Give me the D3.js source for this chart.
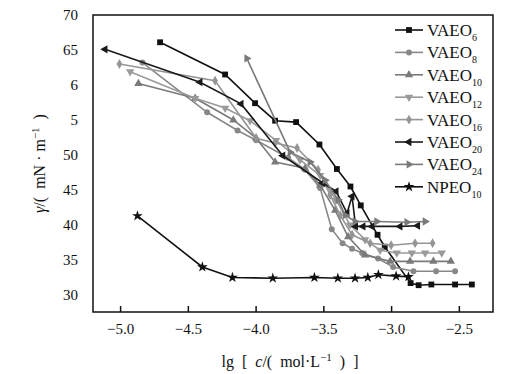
<!DOCTYPE html>
<html>
<head>
  <meta charset="UTF-8">
  <title>Surface tension vs lg c</title>
  <script src="https://d3js.org/d3.v7.min.js"></script>
</head>
<body style="margin:0">
<script>
  // series data: [lg c, gamma]
  const VAEO6 = [[-4.705, 66.1], [-4.225, 61.5], [-4.004, 57.4], [-3.856, 54.9], [-3.701, 54.7],
    [-3.529, 51.5], [-3.40, 48.0], [-3.30, 45.5], [-3.224, 42.8], [-3.10, 38.6], [-3.047, 36.9],
    [-2.856, 31.7], [-2.797, 31.4], [-2.703, 31.5], [-2.528, 31.5], [-2.404, 31.5]];
  const VAEO8 = [[-4.835, 63.2], [-4.358, 56.1], [-4.133, 53.5], [-3.996, 52.1], [-3.76, 49.6],
    [-3.635, 47.9], [-3.524, 45.3], [-3.438, 39.4], [-3.358, 37.4], [-3.288, 36.6], [-3.214, 36.0],
    [-3.096, 35.2], [-2.985, 34.0], [-2.835, 33.4], [-2.668, 33.4], [-2.528, 33.4]];
  const VAEO10 = [[-4.865, 60.2], [-4.446, 58.1], [-4.164, 55.0], [-3.996, 52.4], [-3.856, 49.0],
    [-3.635, 48.1], [-3.524, 45.7], [-3.413, 42.1], [-3.317, 38.3], [-3.192, 35.7], [-3.007, 34.8],
    [-2.86, 34.8], [-2.688, 34.8], [-2.559, 34.8]];
  const VAEO12 = [[-4.926, 61.9], [-4.446, 58.1], [-4.225, 56.7], [-4.041, 54.9], [-3.849, 52.1],
    [-3.672, 49.3], [-3.524, 47.1], [-3.406, 43.6], [-3.303, 40.0], [-3.192, 37.9], [-3.081, 36.4],
    [-2.958, 36.0], [-2.847, 36.0], [-2.749, 36.0], [-2.626, 36.0]];
  const VAEO16 = [[-5.005, 63.0], [-4.299, 60.6], [-3.996, 52.4], [-3.856, 51.7], [-3.694, 51.0],
    [-3.539, 47.9], [-3.45, 44.3], [-3.376, 41.4], [-3.288, 38.6], [-3.155, 37.4], [-3.0, 37.1],
    [-2.823, 37.4], [-2.694, 37.4]];
  const VAEO20 = [[-5.111, 65.1], [-4.41, 60.4], [-4.107, 57.3], [-3.799, 49.9], [-3.504, 46.0],
    [-3.406, 44.8], [-3.325, 41.7], [-3.288, 44.1], [-3.262, 39.8], [-3.207, 39.8], [-3.14, 39.8],
    [-2.934, 39.8], [-2.804, 39.9]];
  const VAEO24 = [[-4.065, 63.8], [-3.745, 50.4], [-3.598, 49.0], [-3.487, 46.4], [-3.391, 43.6],
    [-3.339, 41.4], [-3.266, 40.5], [-3.106, 40.5], [-2.884, 40.4], [-2.749, 40.5]];
  const NPEO10 = [[-4.872, 41.3], [-4.393, 34.0], [-4.171, 32.5], [-3.873, 32.4], [-3.566, 32.5],
    [-3.393, 32.4], [-3.266, 32.4], [-3.172, 32.5], [-3.094, 32.9], [-2.963, 32.7], [-2.872, 32.6]];

  const seriesNames = ["VAEO", "VAEO", "VAEO", "VAEO", "VAEO", "VAEO", "VAEO", "NPEO"];
  const seriesSubs = ["6", "8", "10", "12", "16", "20", "24", "10"];
  const seriesData = [VAEO6, VAEO8, VAEO10, VAEO12, VAEO16, VAEO20, VAEO24, NPEO10];
  const seriesColors = ["#111", "#888", "#7a7a7a", "#9a9a9a", "#959595", "#1a1a1a", "#7a7a7a", "#111"];
  const seriesSymbols = ["square", "circle", "up", "down", "diamond", "left", "right", "star"];

  const xTicks = [-5.0, -4.5, -4.0, -3.5, -3.0, -2.5];
  const xTickLabels = ["\u22125.0", "\u22124.5", "\u22124.0", "\u22123.5", "\u22123.0", "\u22122.5"];
  const yTicks = [30, 35, 40, 45, 50, 55, 60, 65, 70];
  const yTickLabels = ["30", "35", "40", "45", "50", "5", "6", "65", "70"];

  const W = 522, H = 374;
  const plot = {left: 93, right: 493, top: 15, bottom: 312};
  const SERIF = "'Liberation Serif'";

  const svg = d3.select("body").append("svg")
    .attr("width", W)
    .attr("height", H);

  const x = d3.scaleLinear().domain([-5.2, -2.248]).range([plot.left, plot.right]);
  const y = d3.scaleLinear().domain([27.57, 70]).range([plot.bottom, plot.top]);

  // frame
  svg.append("rect")
    .attr("x", plot.left).attr("y", plot.top)
    .attr("width", plot.right - plot.left).attr("height", plot.bottom - plot.top)
    .attr("fill", "none").attr("stroke", "#111").attr("stroke-width", 1.5);

  // x axis, ticks point inward
  const xAxis = d3.axisBottom(x).tickValues(xTicks).tickSize(-6).tickPadding(6)
    .tickFormat((d, i) => xTickLabels[i]);
  const gx = svg.append("g").attr("transform", "translate(0," + plot.bottom + ")").call(xAxis);
  gx.select(".domain").remove();
  gx.selectAll("line").attr("stroke", "#111").attr("stroke-width", 1.5);
  gx.selectAll("text").attr("y", 11).attr("fill", "#111")
    .style("font-family", SERIF).style("font-size", "15px");

  const yAxis = d3.axisLeft(y).tickValues(yTicks).tickSize(0).tickPadding(15)
    .tickFormat((d, i) => yTickLabels[i]);
  const gy = svg.append("g").attr("transform", "translate(" + plot.left + ",0)").call(yAxis);
  gy.select(".domain").remove();
  gy.selectAll("text").attr("fill", "#111")
    .style("font-family", SERIF).style("font-size", "15px");

  // axis titles
  const xt = svg.append("text")
    .attr("x", (plot.left + plot.right) / 2 - 3)
    .attr("y", 367)
    .attr("text-anchor", "middle")
    .attr("fill", "#111")
    .attr("xml:space", "preserve")
    .style("font-family", SERIF).style("font-size", "16px");
  xt.append("tspan").text("lg  [  ");
  xt.append("tspan").style("font-style", "italic").text("c");
  xt.append("tspan").text("/(  mol\u00B7L");
  xt.append("tspan").style("font-size", "11px").attr("dy", -6).text("\u22121");
  xt.append("tspan").attr("dy", 6).text("  )  ]");

  const yt = svg.append("text")
    .attr("transform", "translate(45," + ((plot.top + plot.bottom) / 2) + ") rotate(-90)")
    .attr("text-anchor", "middle")
    .attr("fill", "#111")
    .attr("xml:space", "preserve")
    .style("font-family", SERIF).style("font-size", "16px");
  yt.append("tspan").style("font-style", "italic").text("\u03B3");
  yt.append("tspan").text("/(  mN \u00B7 m");
  yt.append("tspan").style("font-size", "11px").attr("dy", -6).text("\u22121");
  yt.append("tspan").attr("dy", 6).text("  )");

  const symbolType = {
    square: d3.symbolSquare, circle: d3.symbolCircle, up: d3.symbolTriangle,
    down: d3.symbolTriangle, diamond: d3.symbolDiamond, left: d3.symbolTriangle,
    right: d3.symbolTriangle, star: d3.symbolStar
  };
  const symbolRot = {up: 0, down: 180, left: -90, right: 90};
  const symbolSize = {square: 34, circle: 28, up: 30, down: 30, diamond: 28, left: 30, right: 30, star: 36};

  function drawMarker(g, kind, color, cx, cy) {
    g.append("path")
      .attr("d", d3.symbol().type(symbolType[kind]).size(symbolSize[kind])())
      .attr("transform", "translate(" + cx + "," + cy + ")" +
        (symbolRot[kind] !== undefined ? " rotate(" + symbolRot[kind] + ")" : ""))
      .attr("fill", color);
  }

  const line = d3.line().x(d => x(d[0])).y(d => y(d[1]));

  seriesData.forEach((data, i) => {
    const g = svg.append("g");
    g.append("path")
      .datum(data)
      .attr("d", line)
      .attr("fill", "none")
      .attr("stroke", seriesColors[i])
      .attr("stroke-width", 1.6);
    data.forEach(d => drawMarker(g, seriesSymbols[i], seriesColors[i], x(d[0]), y(d[1])));
  });

  // legend
  const legend = svg.append("g");
  seriesNames.forEach((name, i) => {
    const ly = 30 + i * 22.4;
    legend.append("line")
      .attr("x1", 395).attr("x2", 423).attr("y1", ly).attr("y2", ly)
      .attr("stroke", seriesColors[i]).attr("stroke-width", 1.6);
    drawMarker(legend, seriesSymbols[i], seriesColors[i], 409, ly);
    const t = legend.append("text")
      .attr("x", 427).attr("y", ly + 6)
      .attr("fill", "#111")
      .style("font-family", SERIF).style("font-size", "17px");
    t.append("tspan").text(name);
    t.append("tspan").style("font-size", "10px").attr("dy", 5).text(seriesSubs[i]);
  });
</script>
</body>
</html>
